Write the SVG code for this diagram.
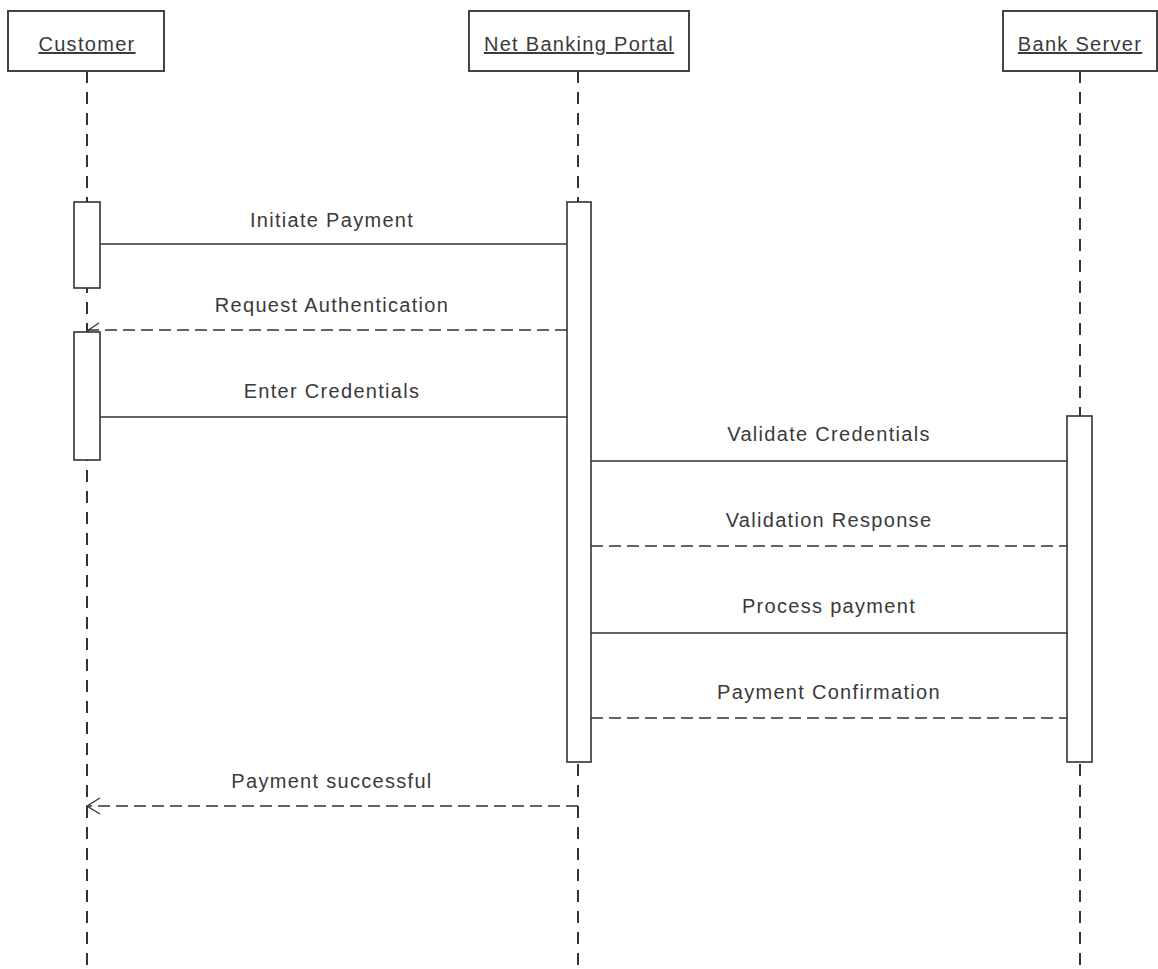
<svg xmlns="http://www.w3.org/2000/svg" width="1158" height="969" viewBox="0 0 1158 969">
<style>
.hdr{fill:#fff;stroke:#444;stroke-width:2}
.life{stroke:#333;stroke-width:2;stroke-dasharray:12 9;fill:none}
.act{fill:#fff;stroke:#333;stroke-width:1.6}
.msg{stroke:#333;stroke-width:1.5;fill:none}
.ret{stroke:#333;stroke-width:1.5;fill:none;stroke-dasharray:12 6}
.head{stroke:#333;stroke-width:1.3;fill:none}
text{font-family:"Liberation Sans",Arial,sans-serif;font-size:20px;fill:#3a3a3a;letter-spacing:1.3px;text-anchor:middle}
.ul{text-decoration:underline}
</style>
<rect width="1158" height="969" fill="#fff"/>
<g id="lifelines">
<line class="life" x1="87" y1="71" x2="87" y2="969"/>
<line class="life" x1="578" y1="71" x2="578" y2="969"/>
<line class="life" x1="1080" y1="71" x2="1080" y2="969"/>
</g>
<g id="customer">
<rect class="hdr" x="8" y="11" width="156" height="60"/>
<text class="ul" x="87" y="51">Customer</text>
</g>
<g id="portal">
<rect class="hdr" x="469" y="11" width="220" height="60"/>
<text class="ul" x="579" y="51">Net Banking Portal</text>
</g>
<g id="bank">
<rect class="hdr" x="1003" y="11" width="154" height="60"/>
<text class="ul" x="1080" y="51">Bank Server</text>
</g>
<g id="connectors">
<line class="msg" x1="100" y1="244" x2="567" y2="244"/>
<text x="332" y="227">Initiate Payment</text>
<line class="ret" x1="567" y1="330" x2="88" y2="330"/>
<polyline class="head" points="99,323 87,331 99,339"/>
<text x="332" y="312">Request Authentication</text>
<line class="msg" x1="100" y1="417" x2="567" y2="417"/>
<text x="332" y="398">Enter Credentials</text>
<line class="msg" x1="591" y1="461" x2="1067" y2="461"/>
<text x="829" y="441">Validate Credentials</text>
<line class="ret" x1="591" y1="546" x2="1067" y2="546"/>
<text x="829" y="527">Validation Response</text>
<line class="msg" x1="591" y1="633" x2="1067" y2="633"/>
<text x="829" y="613">Process payment</text>
<line class="ret" x1="591" y1="718" x2="1067" y2="718"/>
<text x="829" y="699">Payment Confirmation</text>
<line class="ret" x1="578" y1="806" x2="88" y2="806"/>
<polyline class="head" points="100,798 87,806 100,814"/>
<text x="332" y="788">Payment successful</text>
</g>
<g id="activations">
<rect class="act" x="74" y="202" width="26" height="86"/>
<rect class="act" x="74" y="332" width="26" height="128"/>
<rect class="act" x="567" y="202" width="24" height="560"/>
<rect class="act" x="1067" y="416" width="25" height="346"/>
</g>
</svg>
